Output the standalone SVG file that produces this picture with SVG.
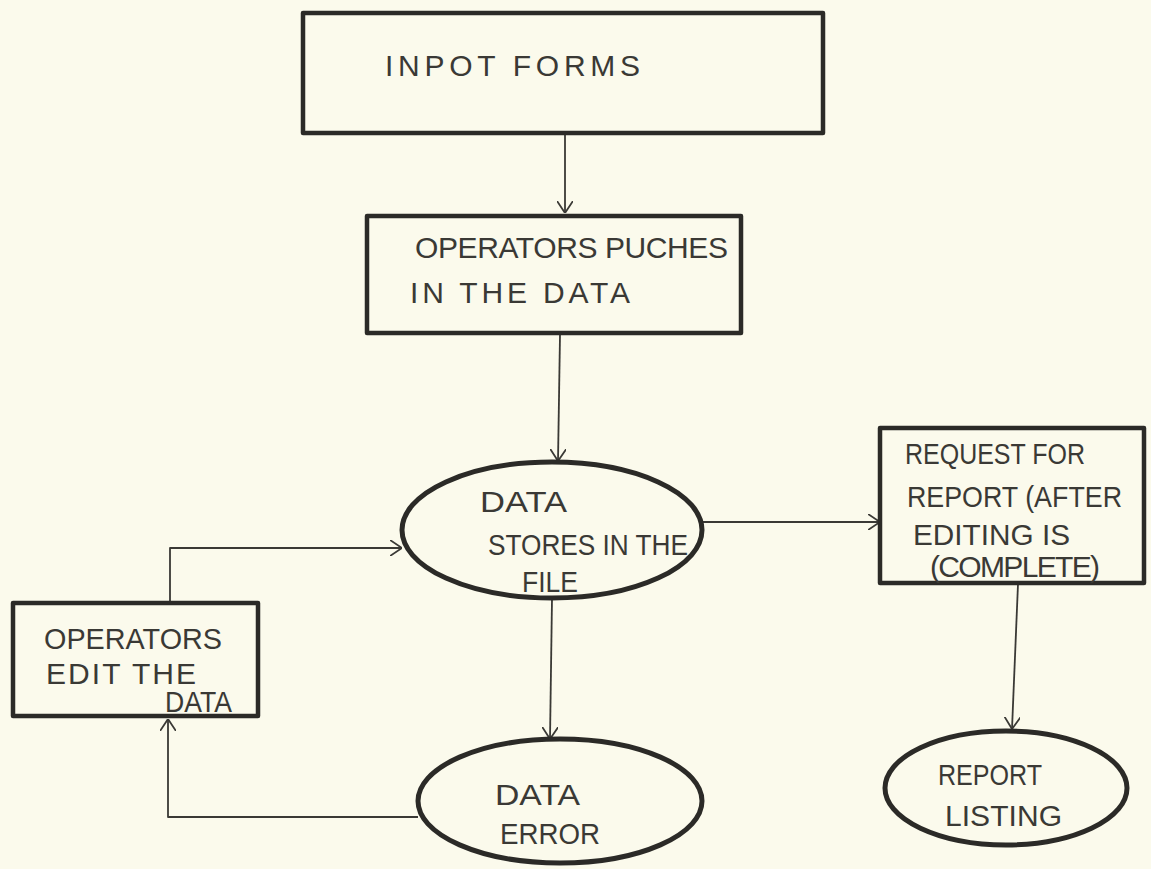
<svg xmlns="http://www.w3.org/2000/svg" width="1151" height="869" viewBox="0 0 1151 869">
  <defs>
    <style>
      .box { fill: none; stroke: #2b2a27; stroke-width: 4.5; stroke-linejoin: round; }
      .oval { fill: none; stroke: #2b2a27; stroke-width: 5; }
      .link { fill: none; stroke: #3a3935; stroke-width: 1.8; stroke-linejoin: round; }
      .lbl { font-family: "Liberation Sans", "DejaVu Sans", sans-serif; font-size: 30px; fill: #3a3935; }
    </style>
    <marker id="vee" viewBox="0 0 12 16" refX="12" refY="8" markerWidth="12" markerHeight="16" markerUnits="userSpaceOnUse" orient="auto">
      <path d="M0,0 L12,8 L0,16" fill="none" stroke="#3a3935" stroke-width="1.8"/>
    </marker>
  </defs>

  <!-- paper -->
  <rect width="1151" height="869" fill="#fbfaec"/>

  <!-- connectors -->
  <g id="connectors">
    <path class="link" d="M565,134 L565,213" marker-end="url(#vee)"/>
    <path class="link" d="M560,335 L558,461" marker-end="url(#vee)"/>
    <path class="link" d="M701,522 L880,522" marker-end="url(#vee)"/>
    <path class="link" d="M1018,584 L1012,729" marker-end="url(#vee)"/>
    <path class="link" d="M552,599 L550,739" marker-end="url(#vee)"/>
    <path class="link" d="M418,817 L168,817 L168,719" marker-end="url(#vee)"/>
    <path class="link" d="M170,602 L170,548 L402,548" marker-end="url(#vee)"/>
  </g>

  <!-- input forms -->
  <g id="input-forms">
    <rect class="box" x="303" y="13" width="520" height="120"/>
    <text class="lbl" x="385" y="76" textLength="255" lengthAdjust="spacing">INPOT FORMS</text>
  </g>

  <!-- operators punch in data -->
  <g id="operators-puches">
    <rect class="box" x="367" y="216" width="374" height="117"/>
    <text class="lbl" x="415" y="258" textLength="313" lengthAdjust="spacing">OPERATORS PUCHES</text>
    <text class="lbl" x="410" y="303" textLength="220" lengthAdjust="spacing">IN THE DATA</text>
  </g>

  <!-- data store -->
  <g id="data-stores">
    <ellipse class="oval" cx="552" cy="530" rx="150" ry="68"/>
    <text class="lbl" x="480" y="512" textLength="87" lengthAdjust="spacingAndGlyphs">DATA</text>
    <text class="lbl" x="488" y="555" textLength="200" lengthAdjust="spacingAndGlyphs">STORES IN THE</text>
    <text class="lbl" x="522" y="592" textLength="56" lengthAdjust="spacingAndGlyphs">FILE</text>
  </g>

  <!-- operators edit -->
  <g id="operators-edit">
    <rect class="box" x="13" y="603" width="245" height="113"/>
    <text class="lbl" x="44" y="649" textLength="178" lengthAdjust="spacingAndGlyphs">OPERATORS</text>
    <text class="lbl" x="46" y="684" textLength="150" lengthAdjust="spacing">EDIT THE</text>
    <text class="lbl" x="165" y="712" font-size="19" textLength="67" lengthAdjust="spacingAndGlyphs">DATA</text>
  </g>

  <!-- data error -->
  <g id="data-error">
    <ellipse class="oval" cx="560" cy="801" rx="142" ry="62"/>
    <text class="lbl" x="495" y="805" textLength="85" lengthAdjust="spacingAndGlyphs">DATA</text>
    <text class="lbl" x="500" y="844" textLength="100" lengthAdjust="spacingAndGlyphs">ERROR</text>
  </g>

  <!-- report request -->
  <g id="report-request">
    <rect class="box" x="880" y="428" width="264" height="155"/>
    <text class="lbl" x="905" y="464" textLength="180" lengthAdjust="spacingAndGlyphs">REQUEST FOR</text>
    <text class="lbl" x="907" y="507" textLength="215" lengthAdjust="spacingAndGlyphs">REPORT (AFTER</text>
    <text class="lbl" x="913" y="545" textLength="157" lengthAdjust="spacingAndGlyphs">EDITING IS</text>
    <text class="lbl" x="930" y="577" font-size="22" textLength="170" lengthAdjust="spacing">(COMPLETE)</text>
  </g>

  <!-- report listing -->
  <g id="report-listing">
    <ellipse class="oval" cx="1006" cy="788" rx="121" ry="57"/>
    <text class="lbl" x="938" y="785" textLength="104" lengthAdjust="spacingAndGlyphs">REPORT</text>
    <text class="lbl" x="945" y="826" textLength="117" lengthAdjust="spacing">LISTING</text>
  </g>
</svg>
